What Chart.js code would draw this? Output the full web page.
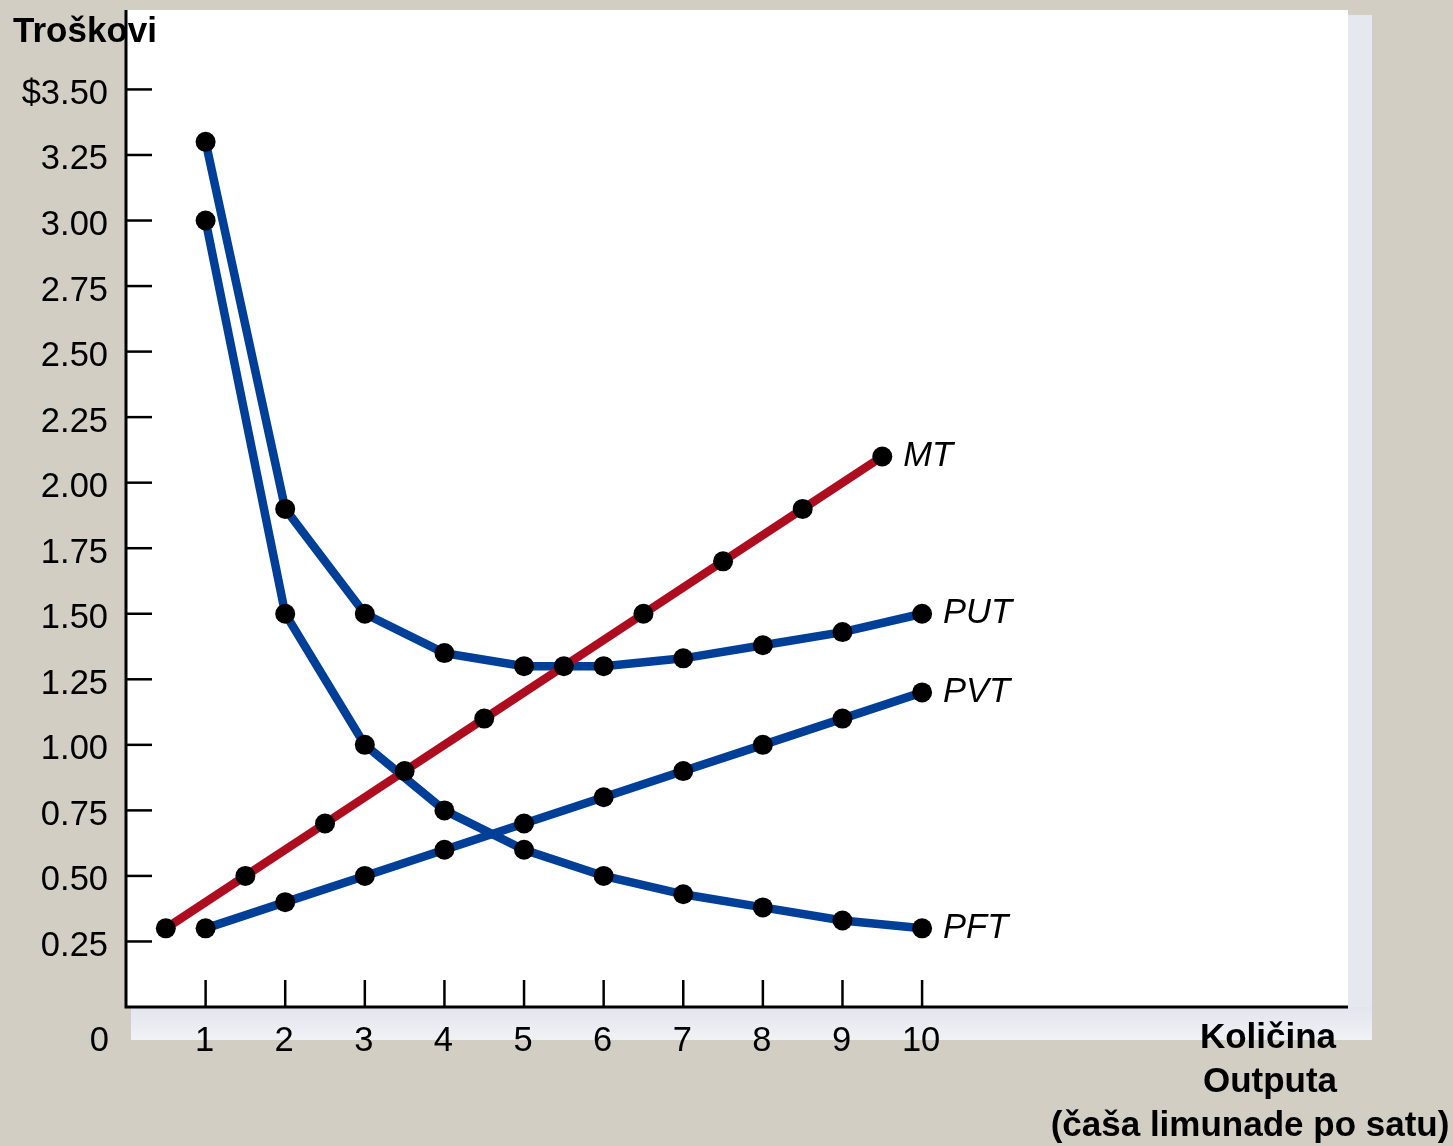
<!DOCTYPE html>
<html>
<head>
<meta charset="utf-8">
<script src="https://cdn.jsdelivr.net/npm/chart.js@4"></script>
<style>
  html, body { margin: 0; padding: 0; background: #d2cec4; }
  canvas { display: block; }
</style>
</head>
<body>
<canvas id="costChart" width="1453" height="1146"></canvas>
<script>
// Data
const quantity = [1, 2, 3, 4, 5, 6, 7, 8, 9, 10];
const mtQuantity = [0.5, 1.5, 2.5, 3.5, 4.5, 5.5, 6.5, 7.5, 8.5, 9.5];
const mtValues  = [0.30, 0.50, 0.70, 0.90, 1.10, 1.30, 1.50, 1.70, 1.90, 2.10];
const putValues = [3.30, 1.90, 1.50, 1.35, 1.30, 1.30, 1.33, 1.38, 1.43, 1.50];
const pftValues = [3.00, 1.50, 1.00, 0.75, 0.60, 0.50, 0.43, 0.38, 0.33, 0.30];
const pvtValues = [0.30, 0.40, 0.50, 0.60, 0.70, 0.80, 0.90, 1.00, 1.10, 1.20];

const yTicks = [0.25, 0.5, 0.75, 1.0, 1.25, 1.5, 1.75, 2.0, 2.25, 2.5, 2.75, 3.0, 3.25, 3.5];
const yTickLabels = ['0.25', '0.50', '0.75', '1.00', '1.25', '1.50', '1.75', '2.00', '2.25', '2.50', '2.75', '3.00', '3.25', '$3.50'];
const xTicks = [1, 2, 3, 4, 5, 6, 7, 8, 9, 10];
const xTickLabels = ['1', '2', '3', '4', '5', '6', '7', '8', '9', '10'];

const seriesNames = ['MT', 'PUT', 'PVT', 'PFT'];
const BLUE = '#003f97';
const RED = '#ad0d1f';
const FONT = '"Liberation Sans", Arial, sans-serif';

function toPoints(xs, ys) {
    return xs.map((x, i) => ({ x: x, y: ys[i] }));
}

function makeSet(label, xs, ys, color) {
    return {
        label: label,
        data: toPoints(xs, ys),
        borderColor: color,
        borderWidth: 8.5,
        pointRadius: 10,
        pointBackgroundColor: '#000',
        pointBorderWidth: 0,
        tension: 0,
        clip: false
    };
}

// white panel with a soft shadow
const panelPlugin = {
    id: 'panel',
    beforeDraw(chart) {
        const { ctx, chartArea: a } = chart;
        ctx.save();
        const g = ctx.createLinearGradient(0, a.bottom, 0, a.bottom + 34);
        g.addColorStop(0, '#e3e5ee');
        g.addColorStop(1, '#f1f2f6');
        ctx.fillStyle = g;
        ctx.fillRect(a.left + 5, a.top + 5, a.right - a.left + 19, a.bottom - a.top + 28);
        ctx.fillStyle = '#e6e8f0';
        ctx.fillRect(a.right, a.top + 5, 24, a.bottom - a.top - 5);
        ctx.fillStyle = '#fff';
        ctx.fillRect(a.left, a.top, a.right - a.left, a.bottom - a.top);
        ctx.restore();
    }
};

// axes, inward ticks and labels
const axesPlugin = {
    id: 'axes',
    beforeDatasetsDraw(chart) {
        const { ctx, chartArea: a, scales } = chart;
        ctx.save();
        ctx.strokeStyle = '#000';
        ctx.lineWidth = 3;
        ctx.beginPath();
        ctx.moveTo(a.left, a.top);
        ctx.lineTo(a.left, a.bottom);
        ctx.lineTo(a.right, a.bottom);
        ctx.stroke();
        ctx.lineWidth = 2.5;
        yTicks.forEach(v => {
            const y = scales.y.getPixelForValue(v);
            ctx.beginPath();
            ctx.moveTo(a.left, y);
            ctx.lineTo(a.left + 26, y);
            ctx.stroke();
        });
        xTicks.forEach(v => {
            const x = scales.x.getPixelForValue(v);
            ctx.beginPath();
            ctx.moveTo(x, a.bottom);
            ctx.lineTo(x, a.bottom - 27);
            ctx.stroke();
        });
        ctx.restore();
    },
    afterDraw(chart) {
        const { ctx, chartArea: a, scales } = chart;
        ctx.save();
        ctx.fillStyle = '#000';
        ctx.font = '34.5px ' + FONT;
        ctx.textBaseline = 'middle';
        ctx.textAlign = 'right';
        yTicks.forEach((v, i) => {
            ctx.fillText(yTickLabels[i], a.left - 18, scales.y.getPixelForValue(v) + 5);
        });
        ctx.fillText('0', a.left - 17, a.bottom + 34);
        ctx.textAlign = 'center';
        xTicks.forEach((v, i) => {
            ctx.fillText(xTickLabels[i], scales.x.getPixelForValue(v) - 1, a.bottom + 34);
        });

        // series names next to the last point
        ctx.font = 'italic 34.5px ' + FONT;
        ctx.textAlign = 'left';
        chart.data.datasets.forEach(ds => {
            const last = ds.data[ds.data.length - 1];
            ctx.fillText(ds.label, scales.x.getPixelForValue(last.x) + 21, scales.y.getPixelForValue(last.y));
        });

        ctx.font = 'bold 35px ' + FONT;
        ctx.textAlign = 'left';
        ctx.fillText('Troškovi', 13, 32);
        ctx.textAlign = 'center';
        ctx.fillText('Količina', 1268, 1038);
        ctx.fillText('Outputa', 1270, 1082);
        ctx.fillText('(čaša limunade po satu)', 1250, 1126);
        ctx.restore();
    }
};

const ctx = document.getElementById('costChart').getContext('2d');
new Chart(ctx, {
    type: 'line',
    data: {
        datasets: [
            makeSet(seriesNames[0], mtQuantity, mtValues, RED),
            makeSet(seriesNames[1], quantity, putValues, BLUE),
            makeSet(seriesNames[2], quantity, pvtValues, BLUE),
            makeSet(seriesNames[3], quantity, pftValues, BLUE)
        ]
    },
    options: {
        responsive: false,
        devicePixelRatio: 1,
        animation: false,
        layout: { padding: { left: 126, top: 9, right: 105, bottom: 139 } },
        scales: {
            x: { type: 'linear', min: 0, max: 15.35, display: false },
            y: { type: 'linear', min: 0, max: 3.803, display: false }
        },
        plugins: {
            legend: { display: false },
            tooltip: { enabled: false }
        }
    },
    plugins: [panelPlugin, axesPlugin]
});
</script>
</body>
</html>
